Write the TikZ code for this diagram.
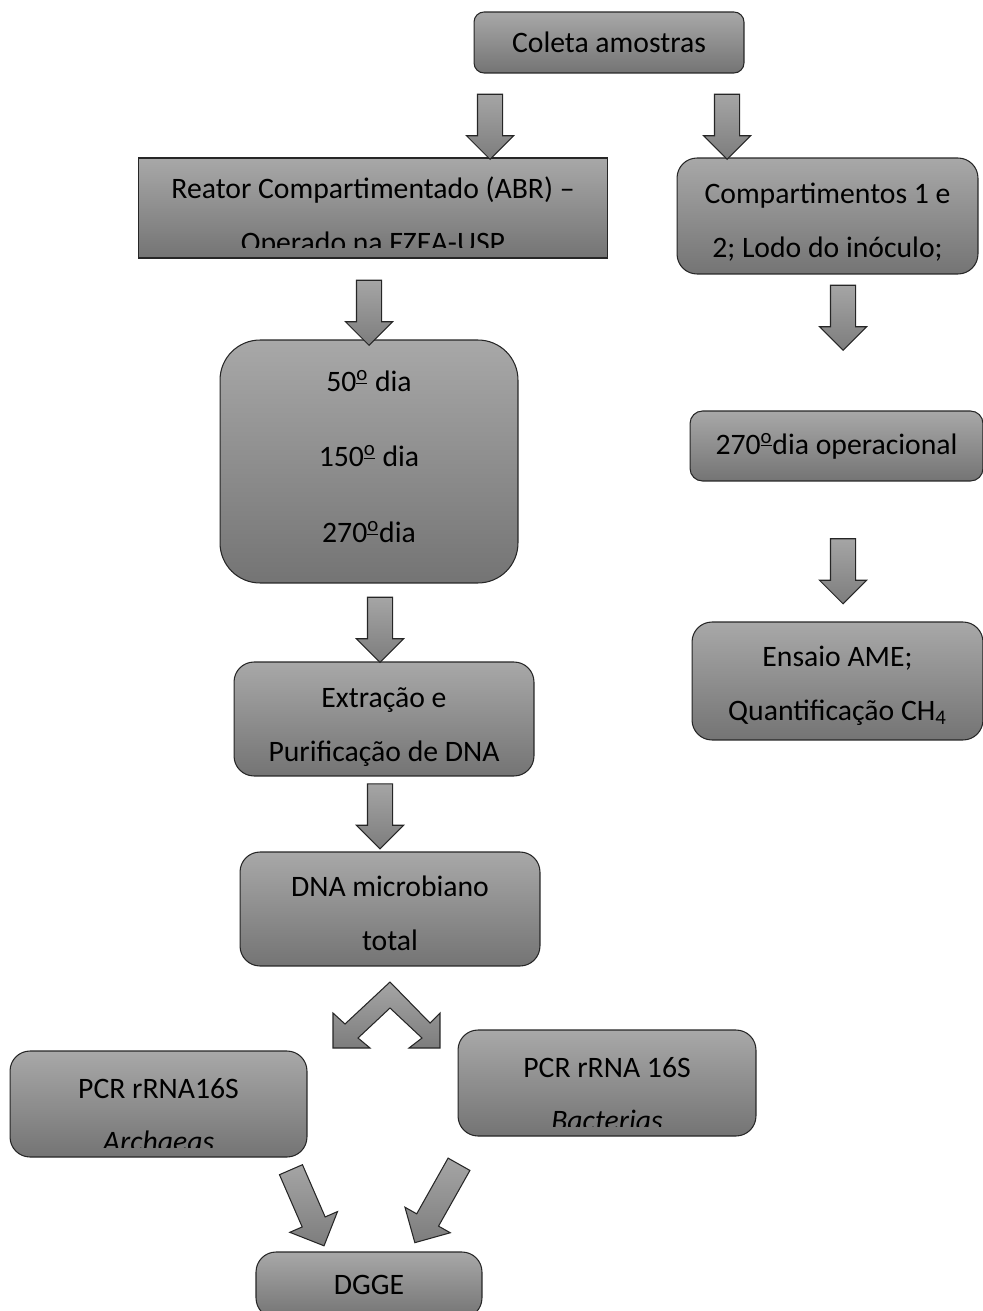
\documentclass[tikz,border=0pt]{standalone}
\usepackage{fontspec}
\setmainfont{Carlito}
\usetikzlibrary{shapes.arrows}
\definecolor{boxtop}{RGB}{168,168,168}
\definecolor{boxbot}{RGB}{116,116,116}
\definecolor{arrtop}{RGB}{165,165,165}
\definecolor{arrbot}{RGB}{125,125,125}
\newcommand\boxfont{\fontsize{16.9}{30.5}\selectfont}
\newcommand\ordo{\textsuperscript{\underline{o}}}

\begin{document}
\begin{tikzpicture}[x=0.02cm,y=-0.02cm,
  flow box/.style={draw=black!85,line width=0.6pt,top color=boxtop,bottom color=boxbot,
    rounded corners=#1,align=center,inner sep=0pt,font=\boxfont},
  flow box/.default=0.4cm,
  box text/.style 2 args={path picture={
    \clip (path picture bounding box.north west) rectangle ([yshift=0.2cm]path picture bounding box.south east);
    \node[align=center,font=\boxfont,yshift=#1] at (path picture bounding box.center) {#2};}},
  arrow base/.style={single arrow,draw=black!85,line width=0.6pt,top color=arrtop,bottom color=arrbot,
    inner sep=0.24cm,single arrow head extend=0.22cm,minimum height=1.3cm},
  block arrow/.style={arrow base,rotate=-90},
  slant arrow/.style={arrow base,single arrow head extend=0.27cm,rotate=#1}]

  \useasboundingbox (0,0) rectangle (983,1311);

  \node[flow box=0.2cm,minimum width=5.4cm,minimum height=1.22cm] (coleta) at (609,42.5) {Coleta amostras};
  \node[flow box=0pt,minimum width=9.4cm,minimum height=2cm,
    box text={-0.18cm}{Reator Compartimentado (ABR) –\\Operado na FZEA-USP}] (reator) at (373,208) {};
  \node[flow box,minimum width=6.02cm,minimum height=2.32cm,
    box text={-0.12cm}{Compartimentos 1 e\\2; Lodo do inóculo;}] (compart) at (827.5,216) {};
  \node[flow box=0.8cm,minimum width=5.96cm,minimum height=4.86cm,
    box text={0.1cm}{50\ordo{} dia\\[0.44cm]150\ordo{} dia\\[0.44cm]270\ordo dia}]
    (dias) at (369,461.5) {};
  \node[flow box=0.25cm,minimum width=5.86cm,minimum height=1.4cm] (operac) at (836.5,446) {270\ordo dia operacional};
  \node[flow box,minimum width=5.82cm,minimum height=2.36cm,
    box text={-0.09cm}{Ensaio AME;\\Quantificação CH\textsubscript{4}}] (ensaio) at (837.5,681) {};
  \node[flow box,minimum width=6cm,minimum height=2.28cm,
    box text={-0.16cm}{Extração e\\Purificação de DNA}] (extracao) at (384,719) {};
  \node[flow box,minimum width=6cm,minimum height=2.28cm,
    box text={-0.08cm}{DNA microbiano\\total}] (dnatotal) at (390,909) {};
  \node[flow box,minimum width=5.94cm,minimum height=2.12cm,
    box text={-0.22cm}{PCR rRNA16S\\\textit{Archaeas}}] (archaeas) at (158.5,1104) {};
  \node[flow box,minimum width=5.96cm,minimum height=2.12cm,
    box text={-0.22cm}{PCR rRNA 16S\\\textit{Bacterias}}] (bacterias) at (607,1083) {};
  \node[flow box,minimum width=4.52cm,minimum height=1.32cm] (dgge) at (369,1285) {DGGE};

  \node[block arrow] (a1) at (490,120.5) {};
  \node[block arrow] (a2) at (727,120.5) {};
  \node[block arrow] (a3) at (369,306.5) {};
  \node[block arrow] (a4) at (843,311.5) {};
  \node[block arrow] (a5) at (843,565) {};
  \node[block arrow] (a6) at (380,623.5) {};
  \node[block arrow] (a7) at (380,810) {};
  \node[slant arrow=-66.5,minimum height=1.66cm] (a8) at (305,1202) {};
  \node[slant arrow=-119.4,minimum height=1.8cm] (a9) at (440,1198) {};

  \draw[draw=black!85,line width=0.6pt,top color=arrtop,bottom color=arrbot]
    (390,982) -- (345,1024) -- (333,1013) -- (333,1048) -- (370,1048) -- (358,1038)
    -- (390,1008) -- (422,1038) -- (409,1048) -- (440,1048) -- (440,1013)
    -- (430,1023) -- cycle;
\end{tikzpicture}
\end{document}
